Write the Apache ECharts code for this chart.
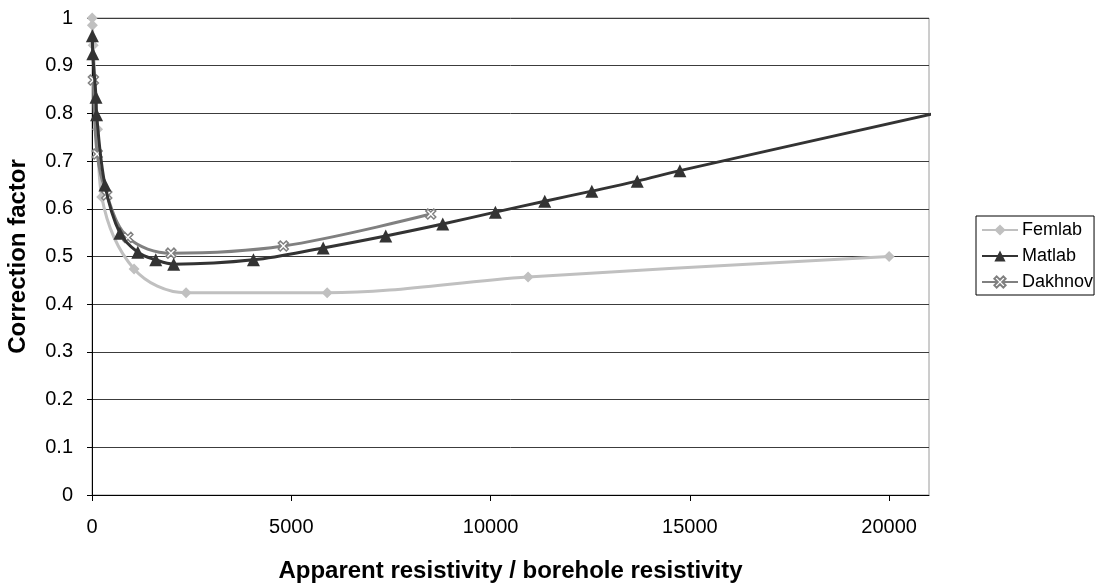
<!DOCTYPE html>
<html>
<head>
<meta charset="utf-8">
<script src="https://cdn.jsdelivr.net/npm/echarts@6/dist/echarts.min.js"></script>
<style>
  html, body { margin: 0; padding: 0; background: #fff; }
  #chart { width: 1101px; height: 588px; }
</style>
</head>
<body>
<div id="chart"></div>
<script>
// Correction factor vs. apparent / borehole resistivity ratio
const femlabX = [5, 10, 30, 140, 245, 1055, 2360, 5900, 10940, 20000];
const femlabY = [1.0, 0.985, 0.943, 0.767, 0.625, 0.474, 0.424, 0.424, 0.457, 0.5];

const matlabX = [10, 20, 100, 115, 325, 700, 1150, 1600, 2050, 4050, 5800, 7370, 8800, 10120, 11360, 12540, 13680, 14750, 21150];
const matlabY = [0.963, 0.925, 0.834, 0.797, 0.65, 0.549, 0.509, 0.493, 0.484, 0.493, 0.518, 0.543, 0.568, 0.593, 0.616, 0.637, 0.658, 0.68, 0.80];

const dakhnovX = [35, 130, 370, 900, 1980, 4800, 8500];
const dakhnovY = [0.87, 0.715, 0.629, 0.54, 0.507, 0.522, 0.589];

const xTicks = [0, 5000, 10000, 15000, 20000];

const pairs = (xs, ys) => xs.map((x, i) => [x, ys[i]]);

// The final Matlab point only continues the line, it carries no marker
const matlabData = pairs(matlabX, matlabY).map((p, i) =>
  i === matlabX.length - 1 ? { value: p, symbol: 'none' } : p
);

const xMark = 'path://M2,0 L5,3 L8,0 L10,2 L7,5 L10,8 L8,10 L5,7 L2,10 L0,8 L3,5 L0,2 Z';

const font = 'Liberation Sans, Arial, sans-serif';

const chart = echarts.init(document.getElementById('chart'), null, { renderer: 'canvas' });
chart.setOption({
  animation: false,
  backgroundColor: '#fff',
  textStyle: { fontFamily: font },
  grid: {
    left: 92, top: 18, right: 172, bottom: 93,
    containLabel: false, outerBoundsMode: 'none',
    show: true, borderColor: '#9a9a9a', borderWidth: 1, backgroundColor: 'transparent'
  },
  legend: {
    orient: 'vertical',
    left: 976, top: 216,
    padding: [5, 1, 4, 5],
    itemWidth: 36, itemHeight: 14, itemGap: 8,
    borderColor: '#000', borderWidth: 1,
    textStyle: { fontFamily: font, fontSize: 18, color: '#000', padding: [0, 0, 0, -1] },
    data: ['Femlab', 'Matlab', 'Dakhnov']
  },
  xAxis: {
    type: 'value', min: 0, max: 21000, interval: 5000,
    name: 'Apparent resistivity / borehole resistivity',
    nameLocation: 'middle', nameGap: 64,
    nameTextStyle: { fontFamily: font, fontSize: 24, fontWeight: 'bold', color: '#000' },
    axisLine: { show: true, lineStyle: { color: '#000', width: 1 } },
    axisTick: { show: true, length: 6, inside: false, customValues: xTicks, lineStyle: { color: '#000' } },
    axisLabel: {
      customValues: xTicks, fontFamily: font, fontSize: 20, color: '#000', margin: 22,
      formatter: v => String(v)
    },
    splitLine: { show: false }
  },
  yAxis: {
    type: 'value', min: 0, max: 1, interval: 0.1,
    name: 'Correction factor',
    nameLocation: 'middle', nameGap: 62, nameRotate: 90,
    nameTextStyle: { fontFamily: font, fontSize: 24, fontWeight: 'bold', color: '#000' },
    axisLine: { show: true, lineStyle: { color: '#000', width: 1 } },
    axisTick: { show: true, length: 5, inside: false, lineStyle: { color: '#000' } },
    axisLabel: { fontFamily: font, fontSize: 20, color: '#000', margin: 19 },
    splitLine: { show: true, lineStyle: { color: '#3c3c3c', width: 1 } }
  },
  series: [
    {
      name: 'Femlab', type: 'line', data: pairs(femlabX, femlabY),
      smooth: 0.35,
      symbol: 'diamond', symbolSize: 11,
      lineStyle: { color: '#c0c0c0', width: 3 },
      itemStyle: { color: '#c0c0c0' },
      z: 2
    },
    {
      name: 'Matlab', type: 'line', data: matlabData,
      smooth: 0.35, clip: false,
      symbol: 'triangle', symbolSize: 13,
      lineStyle: { color: '#333333', width: 3 },
      itemStyle: { color: '#333333' },
      z: 4
    },
    {
      name: 'Dakhnov', type: 'line', data: pairs(dakhnovX, dakhnovY),
      smooth: 0.35,
      symbol: xMark, symbolSize: 10,
      lineStyle: { color: '#808080', width: 3 },
      itemStyle: { color: '#ffffff', borderColor: '#808080', borderWidth: 1.5 },
      z: 3
    }
  ]
});
</script>
</body>
</html>
